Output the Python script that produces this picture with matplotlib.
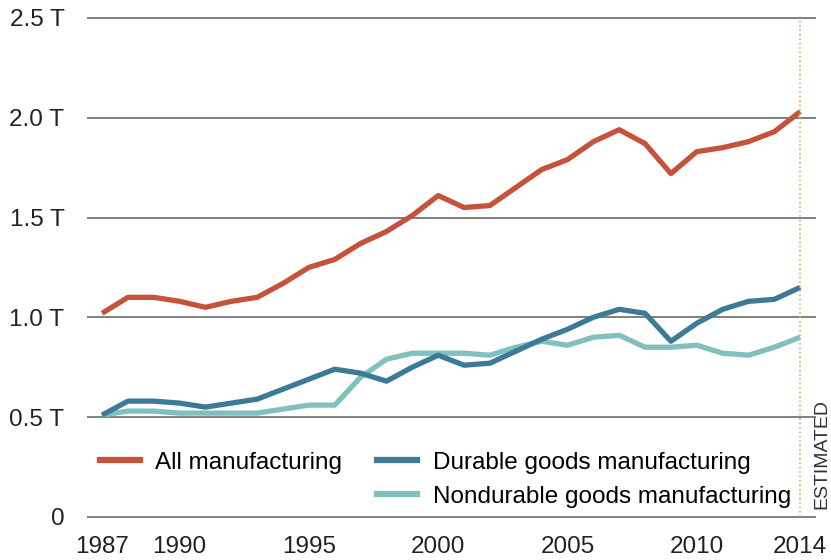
import numpy as np
import matplotlib.pyplot as plt
from matplotlib.lines import Line2D

plt.rcParams['font.family'] = ['Liberation Sans', 'DejaVu Sans']

# годы и значения (трлн)
years = np.arange(1987, 2015)
all_mfg = [1.02, 1.10, 1.10, 1.08, 1.05, 1.08, 1.10, 1.17, 1.25, 1.29,
           1.37, 1.43, 1.51, 1.61, 1.55, 1.56, 1.65, 1.74, 1.79, 1.88,
           1.94, 1.87, 1.72, 1.83, 1.85, 1.88, 1.93, 2.03]
durable = [0.51, 0.58, 0.58, 0.57, 0.55, 0.57, 0.59, 0.64, 0.69, 0.74,
           0.72, 0.68, 0.75, 0.81, 0.76, 0.77, 0.83, 0.89, 0.94, 1.00,
           1.04, 1.02, 0.88, 0.97, 1.04, 1.08, 1.09, 1.15]
nondurable = [0.51, 0.53, 0.53, 0.52, 0.52, 0.52, 0.52, 0.54, 0.56, 0.56,
              0.70, 0.79, 0.82, 0.82, 0.82, 0.81, 0.85, 0.88, 0.86, 0.90,
              0.91, 0.85, 0.85, 0.86, 0.82, 0.81, 0.85, 0.90]
yticks = [0, 0.5, 1.0, 1.5, 2.0, 2.5]
ylabels = ['0', '0.5 T', '1.0 T', '1.5 T', '2.0 T', '2.5 T']
xticks = [1987, 1990, 1995, 2000, 2005, 2010, 2014]

c_all = '#c5523a'
c_dur = '#3d7a97'
c_non = '#80c0bf'

fig = plt.figure(figsize=(8.31, 5.60), dpi=100)
ax = fig.add_axes([0.106, 0.077, 0.875, 0.891])

for y in yticks:
    ax.axhline(y, color='#808080', lw=1.4, zorder=1, clip_on=False)

ax.plot(years, nondurable, color=c_non, lw=3.8, zorder=3, solid_capstyle='butt')
ax.plot(years, durable, color=c_dur, lw=3.8, zorder=4, solid_capstyle='butt')
ax.plot(years, all_mfg, color=c_all, lw=3.8, zorder=5, solid_capstyle='butt')

# линия "оценка"
ax.plot([2014, 2014], [0, 2.5], color='#d6b35a', lw=1.2, ls=':', zorder=6, clip_on=False)
ax.text(2014.82, 0.04, 'ESTIMATED', rotation=90, ha='center', va='bottom',
        fontsize=14, color='#333333')

ax.set_xlim(1986.46, 2014.58)
ax.set_ylim(0, 2.5)
ax.set_yticks(yticks)
ax.set_yticklabels(ylabels)
ax.set_xticks(xticks)
ax.tick_params(axis='both', length=0, labelsize=17.5, colors='#222222')
ax.tick_params(axis='y', pad=17)
ax.tick_params(axis='x', pad=14)
for s in ax.spines.values():
    s.set_visible(False)

handles = [Line2D([], [], color=c_all, lw=4.5),
           Line2D([], [], color='none'),
           Line2D([], [], color=c_dur, lw=4.5),
           Line2D([], [], color=c_non, lw=4.5)]
labels = ['All manufacturing', '', 'Durable goods manufacturing',
          'Nondurable goods manufacturing']
ax.legend(handles, labels, ncol=2, loc='lower left',
          bbox_to_anchor=(0.1203, 0.0929), bbox_transform=fig.transFigure,
          frameon=False, fontsize=17.5, handlelength=1.65, columnspacing=1.45,
          labelspacing=0.5, handletextpad=0.62, borderpad=0, borderaxespad=0)

fig.savefig('out.png', dpi=100)
